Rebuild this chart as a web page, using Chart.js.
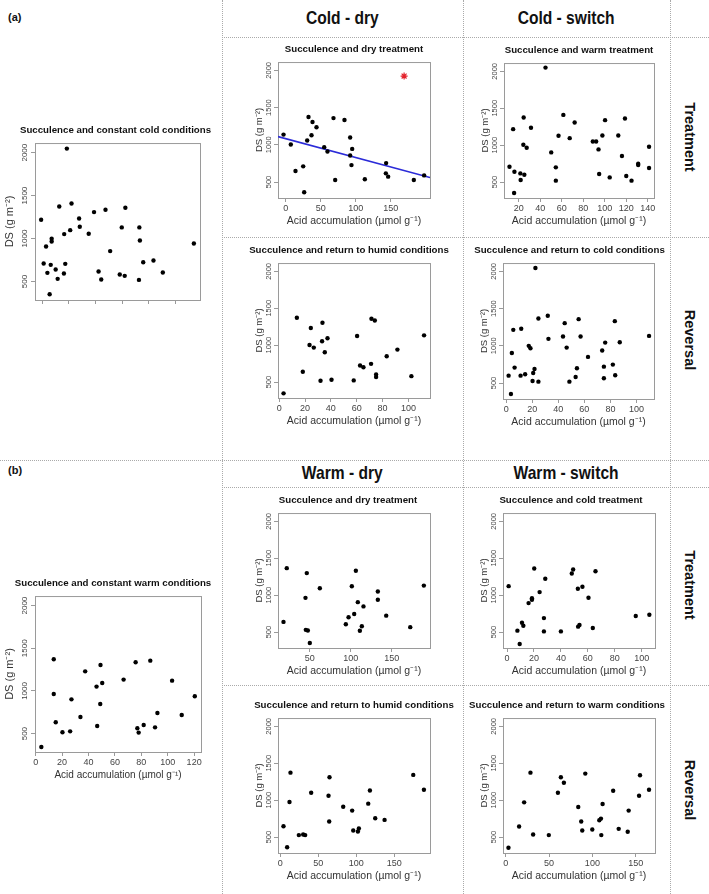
<!DOCTYPE html>
<html>
<head>
<meta charset="utf-8">
<title>Succulence and acid accumulation</title>
<script src="https://cdn.jsdelivr.net/npm/chart.js@4.4.1/dist/chart.umd.min.js"></script>
<style>
  body { margin: 0; background: #fff; }
  #fig { position: relative; width: 709px; height: 894px; overflow: hidden; font-family: "Liberation Sans", Arial, sans-serif; color: #111; }
  #fig canvas { position: absolute; }
  .vl { position: absolute; top: 0; height: 894px; width: 0; border-left: 1px dotted #aaa; }
  .hl { position: absolute; height: 0; border-top: 1px dotted #aaa; }
  .tag { position: absolute; font-weight: bold; font-size: 11px; }
  .head { position: absolute; text-align: center; font-weight: bold; font-size: 19px; line-height: 22px; }
  .head span { display: inline-block; transform: scaleX(0.82); }
  .side { position: absolute; transform: translate(-50%, -50%) rotate(90deg); font-weight: bold; font-size: 14.5px; white-space: nowrap; }
</style>
</head>
<body>
<div id="fig">
  <div class="vl" style="left:222px"></div>
  <div class="vl" style="left:463px"></div>
  <div class="vl" style="left:670px"></div>
  <div class="hl" style="left:222px;width:487px;top:37px"></div>
  <div class="hl" style="left:222px;width:487px;top:237px"></div>
  <div class="hl" style="left:0;width:709px;top:460px"></div>
  <div class="hl" style="left:222px;width:487px;top:487px"></div>
  <div class="hl" style="left:222px;width:487px;top:685px"></div>

  <div class="tag" style="left:8px;top:11px">(a)</div>
  <div class="tag" style="left:8px;top:464px">(b)</div>
  <div class="head" style="left:222px;width:241px;top:7px"><span>Cold - dry</span></div>
  <div class="head" style="left:463px;width:207px;top:7px"><span>Cold - switch</span></div>
  <div class="head" style="left:222px;width:241px;top:462px"><span>Warm - dry</span></div>
  <div class="head" style="left:463px;width:207px;top:462px"><span>Warm - switch</span></div>
  <div class="side" style="left:690px;top:137px">Treatment</div>
  <div class="side" style="left:690px;top:340px">Reversal</div>
  <div class="side" style="left:690px;top:585px">Treatment</div>
  <div class="side" style="left:690px;top:790px">Reversal</div>
</div>

<script>
// ---- data ----
// shared y axis: DS (g m-2)
const dsTicks = [500, 1000, 1500, 2000];
const dsRange = [285, 2112];

// (a) constant cold
const coldConstAcid = [-0.7, 1.2, 3.0, 4.0, 5.7, 6.5, 7.2, 7.2, 10.2, 11.7, 12.9, 16.4, 16.6, 17.4, 18.6, 21.1, 22.1, 27.8, 28.3, 35.0, 39.0, 42.4, 44.4, 47.6, 51.1, 58.3, 59.8, 62.0, 62.5, 73.0, 73.4, 72.7, 75.9, 83.6, 90.6, 113.9];
const coldConstDS = [1219, 710, 908, 601, 352, 694, 998, 966, 640, 531, 1374, 593, 1052, 706, 2047, 1098, 1409, 1234, 1137, 1056, 1308, 617, 523, 1335, 854, 582, 1130, 566, 1359, 1130, 978, 519, 725, 745, 605, 943];
const coldConstTicks = [0, 20, 40, 60, 80, 100];

// (a) cold - dry, treatment
const coldDryTrtAcid = [-3.3, 7.1, 13.8, 24.8, 26.2, 30.5, 32.4, 36.7, 38.1, 43.8, 54.8, 59.5, 68.1, 70.5, 83.8, 91.9, 91.9, 93.8, 94.8, 112.9, 143.3, 142.9, 146.2, 182.9, 197.6];
const coldDryTrtDS = [1137, 1003, 647, 710, 362, 1057, 1373, 1128, 1306, 1235, 968, 910, 1359, 527, 1333, 1097, 856, 727, 945, 536, 754, 616, 572, 527, 589];
const coldDryTrtTicks = [0, 50, 100, 150];
const coldDryOutlierAcid = [169];
const coldDryOutlierDS = [1924];
const coldDryFit = { intercept: 1082, slope: -2.536 };

// (a) cold - switch, treatment (warm)
const coldSwTrtAcid = [11.4, 14.8, 16.0, 15.7, 21.5, 21.8, 24.6, 24.3, 25.2, 27.4, 31.4, 44.9, 50.2, 54.5, 54.5, 57.0, 61.5, 67.4, 72.0, 88.9, 92.0, 94.2, 94.8, 100.3, 97.8, 104.6, 112.6, 116.0, 118.8, 120.0, 124.9, 131.1, 131.1, 141.2, 141.2];
const coldSwTrtDS = [708, 1217, 641, 353, 618, 529, 1375, 1006, 600, 965, 1235, 2050, 902, 700, 520, 1127, 1410, 1095, 1307, 1050, 1050, 943, 610, 1339, 1131, 564, 1131, 853, 1361, 583, 520, 749, 731, 979, 691];
const coldSwTrtTicks = [20, 40, 60, 80, 100, 120, 140];

// (a) cold - dry, reversal (humid)
const coldDryRevAcid = [3.4, 13.7, 18.3, 23.5, 24.5, 26.8, 32.0, 33.2, 33.5, 35.3, 37.4, 40.5, 57.7, 60.3, 62.6, 65.2, 71.1, 71.4, 74.0, 75.0, 75.0, 83.2, 91.5, 102.3, 112.1];
const coldDryRevDS = [348, 1371, 640, 1003, 1232, 967, 518, 1053, 1304, 904, 1093, 532, 523, 1124, 725, 702, 747, 1358, 1335, 604, 568, 851, 940, 581, 1133];
const coldDryRevTicks = [0, 20, 40, 60, 80, 100];

// (a) cold - switch, reversal (cold)
const coldSwRevAcid = [1.8, 3.6, 4.3, 5.4, 6.4, 11.0, 11.5, 14.5, 17.3, 18.6, 20.2, 20.7, 21.7, 22.4, 24.7, 24.7, 31.9, 32.4, 43.6, 44.9, 46.4, 48.5, 53.3, 54.3, 55.6, 57.1, 62.8, 73.7, 75.0, 75.0, 76.0, 81.9, 83.4, 83.7, 87.2, 109.7];
const coldSwRevDS = [599, 352, 904, 1214, 707, 599, 1228, 617, 999, 967, 527, 635, 689, 2045, 1367, 518, 1403, 1093, 1124, 1304, 976, 518, 581, 698, 1358, 1124, 851, 936, 720, 563, 1043, 747, 1331, 604, 1048, 1133];
const coldSwRevTicks = [0, 20, 40, 60, 80, 100];

// (b) constant warm
const warmConstAcid = [4.3, 13.7, 13.7, 15.2, 20.3, 26.1, 27.1, 33.9, 37.5, 46.1, 46.6, 48.9, 49.1, 50.4, 66.6, 75.7, 77.0, 78.0, 81.8, 86.8, 90.4, 92.2, 103.3, 110.6, 120.5];
const warmConstDS = [344, 1371, 965, 633, 516, 527, 902, 695, 1230, 1051, 590, 848, 1305, 1094, 1133, 1336, 563, 512, 602, 1355, 574, 742, 1121, 719, 938];
const warmConstTicks = [0, 20, 40, 60, 80, 100, 120];

// (b) warm - dry, treatment
const warmDryTrtAcid = [17.9, 21.9, 44.7, 45.1, 47.6, 46.3, 50.0, 62.2, 93.9, 97.2, 101.2, 104.1, 106.1, 108.5, 111.0, 113.4, 115.4, 132.9, 132.9, 143.1, 172.4, 189.0];
const warmDryTrtDS = [638, 1366, 964, 531, 522, 1299, 353, 1094, 607, 701, 1121, 746, 1330, 906, 518, 580, 848, 1049, 938, 723, 567, 1130];
const warmDryTrtTicks = [50, 100, 150];

// (b) warm - switch, treatment (cold)
const warmSwTrtAcid = [1.2, 7.7, 11.1, 12.1, 9.4, 16.0, 18.5, 18.5, 20.2, 24.2, 27.4, 27.4, 28.4, 40.0, 48.1, 49.1, 52.6, 52.8, 53.8, 56.0, 60.5, 63.7, 65.7, 95.6, 105.7];
const warmSwTrtDS = [1122, 520, 627, 587, 339, 893, 938, 960, 1361, 1042, 690, 510, 1222, 510, 1294, 1348, 1087, 574, 596, 1114, 965, 556, 1325, 718, 736];
const warmSwTrtTicks = [0, 20, 40, 60, 80, 100];

// (b) warm - dry, reversal (humid)
const warmDryRevAcid = [4.4, 9.2, 12.3, 13.6, 24.6, 30.3, 32.9, 40.8, 63.6, 64.5, 64.9, 82.9, 94.7, 96.1, 102.2, 103.5, 115.8, 118.0, 125.0, 137.3, 175.0, 189.0];
const warmDryRevDS = [648, 362, 975, 1373, 527, 536, 527, 1100, 1060, 711, 1311, 912, 859, 590, 577, 617, 953, 1132, 756, 733, 1342, 1141];
const warmDryRevTicks = [0, 50, 100, 150];

// (b) warm - switch, reversal (warm)
const warmSwRevAcid = [3.1, 15.4, 21.2, 28.5, 31.6, 49.7, 60.2, 63.6, 67.1, 83.7, 87.1, 88.3, 91.8, 99.9, 108.0, 109.9, 110.3, 111.8, 124.0, 130.4, 140.8, 141.9, 153.9, 155.0, 165.4];
const warmSwRevDS = [357, 644, 971, 1373, 536, 527, 1100, 1311, 1235, 908, 711, 590, 1360, 603, 729, 751, 527, 948, 1127, 612, 572, 859, 1060, 1338, 1141];
const warmSwRevTicks = [0, 50, 100, 150];

// ---- panel layout: plot box [left, top, right, bottom] in page pixels,
//      tshift = horizontal offset of the title from the box centre ----
const panels = [
  { box: [35, 143, 200, 300], tshift: -2, big: true, xLabels: false, title: 'Succulence and constant cold conditions', x: coldConstAcid, y: coldConstDS, xr: [-5.3, 118.5], xt: coldConstTicks },
  { box: [278, 62, 430, 198], tshift: 0, title: 'Succulence and dry treatment', x: coldDryTrtAcid, y: coldDryTrtDS, xr: [-11.2, 206], xt: coldDryTrtTicks, fit: coldDryFit, outlier: [coldDryOutlierAcid, coldDryOutlierDS] },
  { box: [504, 63, 654, 198], tshift: 0, title: 'Succulence and warm treatment', x: coldSwTrtAcid, y: coldSwTrtDS, xr: [6.3, 145.8], xt: coldSwTrtTicks },
  { box: [278, 263, 430, 398], tshift: -5, title: 'Succulence and return to humid conditions', x: coldDryRevAcid, y: coldDryRevDS, xr: [-0.9, 116.7], xt: coldDryRevTicks },
  { box: [503, 263, 654, 399], tshift: -9, title: 'Succulence and return to cold conditions', x: coldSwRevAcid, y: coldSwRevDS, xr: [-2.5, 113.5], xt: coldSwRevTicks },
  { box: [35, 596, 201, 752], tshift: -5, big: true, title: 'Succulence and constant warm conditions', x: warmConstAcid, y: warmConstDS, xr: [-0.5, 125.2], xt: warmConstTicks },
  { box: [278, 513, 430, 648], tshift: -6, title: 'Succulence and dry treatment', x: warmDryTrtAcid, y: warmDryTrtDS, xr: [11.2, 196.5], xt: warmDryTrtTicks },
  { box: [503, 513, 655, 648], tshift: -8, title: 'Succulence and cold treatment', x: warmSwTrtAcid, y: warmSwTrtDS, xr: [-3, 109.9], xt: warmSwTrtTicks },
  { box: [278, 718, 430, 853], tshift: 0, title: 'Succulence and return to humid conditions', x: warmDryRevAcid, y: warmDryRevDS, xr: [-2.8, 197], xt: warmDryRevTicks },
  { box: [503, 718, 655, 853], tshift: -12, title: 'Succulence and return to warm conditions', x: warmSwRevAcid, y: warmSwRevDS, xr: [-3.2, 172.3], xt: warmSwRevTicks }
];

Chart.defaults.font.family = '"Liberation Sans", Arial, sans-serif';
Chart.defaults.color = '#444';

const AXIS_COL = '#9a9a9a';
const SIDE = 40;      // space left of the plot box (y axis)
const TOP = 24;       // title block
const BOTTOM = 36;    // x axis block

// plot frame like R's box()
const boxPlugin = {
  id: 'frame',
  beforeDatasetsDraw(chart) {
    const a = chart.chartArea;
    const ctx = chart.ctx;
    ctx.save();
    ctx.strokeStyle = AXIS_COL;
    ctx.lineWidth = 1;
    ctx.strokeRect(a.left + 0.5, a.top + 0.5, a.right - a.left, a.bottom - a.top);
    ctx.restore();
  }
};

function textWidth(txt, size) {
  const c = document.createElement('canvas').getContext('2d');
  c.font = size + 'px "Liberation Sans", Arial, sans-serif';
  return c.measureText(txt).width;
}

const fig = document.getElementById('fig');

function drawPanel(p) {
  const [l, t, r, b] = p.box;
  const rightSpace = SIDE + 2 * p.tshift;   // title is centred on the whole canvas
  const cv = document.createElement('canvas');
  cv.width = SIDE + (r - l) + rightSpace;
  cv.height = b - t + TOP + BOTTOM;
  cv.style.left = (l - SIDE) + 'px';
  cv.style.top = (t - TOP) + 'px';
  fig.appendChild(cv);

  const xTickSize = p.big ? 9 : 9;
  const yTickSize = p.big ? 8 : 7.5;
  const xTitleSize = p.big ? 10 : 10.5;
  const yTitleSize = p.big ? 11 : 9.5;
  const yLabOff = p.big ? 10.5 : 9;     // centre of y tick labels, left of box
  const yTitleOff = p.big ? 25 : 19;    // centre of y title, left of box
  const widest = textWidth('2000', yTickSize);

  const datasets = [{
    data: p.x.map((v, i) => ({ x: v, y: p.y[i] })),
    pointRadius: 2.2,
    pointHoverRadius: 2.2,
    backgroundColor: '#000',
    borderWidth: 0
  }];
  if (p.fit) {
    datasets.push({
      data: p.xr.map(v => ({ x: v, y: p.fit.intercept + p.fit.slope * v })),
      showLine: true,
      borderColor: '#2b2bd8',
      borderWidth: 1.6,
      pointRadius: 0
    });
  }
  if (p.outlier) {
    datasets.push({
      data: p.outlier[0].map((v, i) => ({ x: v, y: p.outlier[1][i] })),
      pointStyle: 'star',
      pointRadius: 3.5,
      borderColor: '#e3202a',
      borderWidth: 1.2,
      backgroundColor: 'transparent'
    });
  }

  new Chart(cv, {
    type: 'scatter',
    data: { datasets },
    plugins: [boxPlugin],
    options: {
      responsive: false,
      animation: false,
      devicePixelRatio: 1,
      layout: { padding: 0 },
      plugins: {
        legend: { display: false },
        tooltip: { enabled: false },
        title: {
          display: true,
          text: p.title,
          color: '#111',
          font: { size: 9.7, weight: 'bold' },
          padding: { top: 5.2, bottom: 7.2 }
        }
      },
      scales: {
        x: {
          type: 'linear',
          min: p.xr[0],
          max: p.xr[1],
          afterBuildTicks: s => { s.ticks = p.xt.map(v => ({ value: v })); },
          afterFit: s => { s.height = BOTTOM; },
          border: { display: false },
          grid: { drawOnChartArea: false, drawTicks: true, tickLength: 4, color: AXIS_COL },
          ticks: {
            display: p.xLabels !== false,
            autoSkip: false,
            maxRotation: 0,
            padding: 1.6,
            color: '#444',
            font: { size: xTickSize },
            callback: v => String(v)
          },
          title: {
            display: p.xLabels !== false,
            text: 'Acid accumulation (µmol g⁻¹)',
            color: '#333',
            font: { size: xTitleSize },
            padding: { top: 0, bottom: 36 - 23.5 - xTitleSize * 0.6 }
          }
        },
        y: {
          type: 'linear',
          min: dsRange[0],
          max: dsRange[1],
          afterBuildTicks: s => { s.ticks = dsTicks.map(v => ({ value: v })); },
          afterFit: s => { s.width = SIDE; },
          border: { display: false },
          grid: { drawOnChartArea: false, drawTicks: true, tickLength: 4, color: AXIS_COL },
          ticks: {
            minRotation: 90,
            maxRotation: 90,
            crossAlign: 'center',
            padding: yLabOff - 4 - widest / 2,
            color: '#444',
            font: { size: yTickSize },
            callback: v => String(v)
          },
          title: {
            display: true,
            text: 'DS (g m⁻²)',
            color: '#333',
            font: { size: yTitleSize },
            padding: { top: SIDE - yTitleOff - yTitleSize * 0.6, bottom: 0 }
          }
        },
        // empty right-hand spacer that positions the centred title
        yRight: {
          position: 'right',
          display: true,
          afterFit: s => { s.width = rightSpace; },
          border: { display: false },
          grid: { display: false },
          ticks: { display: false }
        }
      }
    }
  });
}

panels.forEach(drawPanel);
</script>
</body>
</html>
